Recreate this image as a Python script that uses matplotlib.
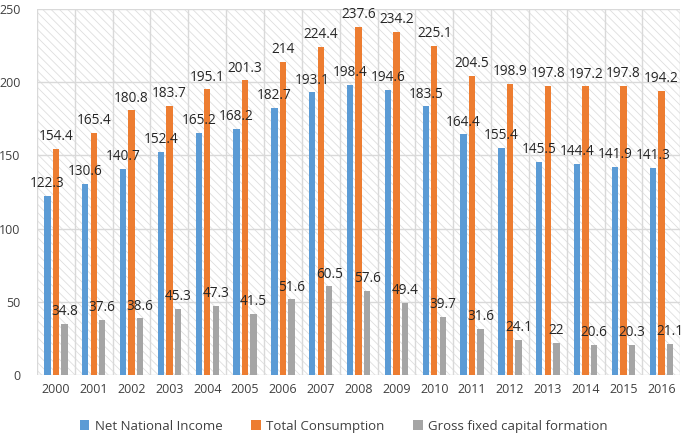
import matplotlib.pyplot as plt
import numpy as np
from matplotlib.patches import Rectangle

plt.rcParams['font.family'] = 'Open Sans'
plt.rcParams['font.size'] = 9
plt.rcParams['hatch.color'] = '#dedede'
plt.rcParams['hatch.linewidth'] = 0.6

years = ['2000', '2001', '2002', '2003', '2004', '2005', '2006', '2007', '2008',
         '2009', '2010', '2011', '2012', '2013', '2014', '2015', '2016']
net_income = [122.3, 130.6, 140.7, 152.4, 165.2, 168.2, 182.7, 193.1, 198.4,
              194.6, 183.5, 164.4, 155.4, 145.5, 144.4, 141.9, 141.3]
consumption = [154.4, 165.4, 180.8, 183.7, 195.1, 201.3, 214, 224.4, 237.6,
               234.2, 225.1, 204.5, 198.9, 197.8, 197.2, 197.8, 194.2]
capital = [34.8, 37.6, 38.6, 45.3, 47.3, 41.5, 51.6, 60.5, 57.6,
           49.4, 39.7, 31.6, 24.1, 22, 20.6, 20.3, 21.1]

series = [('Net National Income', net_income, '#5b9bd5'),
          ('Total Consumption', consumption, '#ed7d31'),
          ('Gross fixed capital formation', capital, '#a5a5a5')]

fig = plt.figure(figsize=(6.85, 4.34), dpi=100)
ax = fig.add_axes([0.054, 0.136, 0.939, 0.843])

x = np.arange(len(years))
ax.set_xlim(-0.5, len(years) - 0.5)
ax.set_ylim(0, 250)

# hatched plot-area background
ax.add_patch(Rectangle((0, 0), 1, 1, transform=ax.transAxes, facecolor='white',
                       edgecolor='#dedede', hatch='\\\\\\\\', linewidth=0, zorder=0))

offset = 0.225
width = 0.17
for i, (name, vals, col) in enumerate(series):
    pos = x + (i - 1) * offset
    bars = ax.bar(pos, vals, width=width, color=col, label=name, zorder=3)
    for b, v in zip(bars, vals):
        ax.annotate('{:g}'.format(v), (b.get_x() + b.get_width() / 2, v),
                    xytext=(0, 3.5), textcoords='offset points',
                    ha='center', va='bottom', fontsize=9.8, color='#262626', zorder=4)

ax.set_yticks(range(0, 251, 50))
for y in range(50, 251, 50):
    ax.axhline(y, color='#d9d9d9', linewidth=1, zorder=1)
for b in np.arange(-0.5, len(years), 1):
    ax.axvline(b, color='#d9d9d9', linewidth=1, zorder=1)
ax.axhline(0, color='#d9d9d9', linewidth=1, zorder=2)

ax.set_xticks(x)
ax.set_xticklabels(years)
ax.tick_params(length=0, colors='#404040', labelsize=9)
ax.tick_params(axis='y', pad=12)
ax.tick_params(axis='x', pad=6)
for s in ax.spines.values():
    s.set_visible(False)

ax.legend(loc='lower center', bbox_to_anchor=(0.477, -0.19), ncol=3, frameon=False,
          handlelength=0.7, handleheight=0.7, columnspacing=2.2, handletextpad=0.4,
          fontsize=9.5, labelcolor='#404040')

fig.savefig('out.png', dpi=100)
